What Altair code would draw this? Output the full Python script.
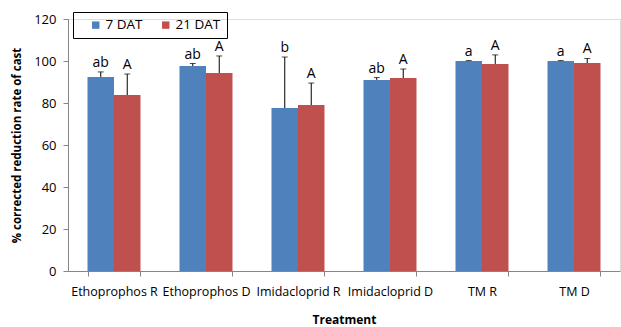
import altair as alt
import pandas as pd

treatments = ["Ethoprophos R", "Ethoprophos D", "Imidacloprid R", "Imidacloprid D", "TM R", "TM D"]
series = ["7 DAT", "21 DAT"]
vals_7 = [92.4, 97.6, 77.6, 91.0, 100.0, 100.0]
err_7 = [2.4, 1.2, 24.3, 1.1, 0.2, 0.2]
vals_21 = [83.8, 94.3, 79.0, 91.9, 98.6, 99.0]
err_21 = [10.0, 8.1, 10.5, 4.3, 4.3, 2.2]
lab_7 = ["ab", "ab", "b", "ab", "a", "a"]
lab_21 = ["A", "A", "A", "A", "A", "A"]

rows = []
for i, t in enumerate(treatments):
    rows.append({"t": t, "s": series[0], "v": vals_7[i], "top": vals_7[i] + err_7[i], "lab": lab_7[i]})
    rows.append({"t": t, "s": series[1], "v": vals_21[i], "top": vals_21[i] + err_21[i], "lab": lab_21[i]})
df = pd.DataFrame(rows)

FONT = "Open Sans"
xscale = alt.Scale(domain=treatments, paddingInner=0.424, paddingOuter=0.212)
xoff = alt.XOffset("s:N", scale=alt.Scale(domain=series, paddingInner=0, paddingOuter=0))
color = alt.Color("s:N", scale=alt.Scale(domain=series, range=["#4F81BD", "#C0504D"]),
                  legend=alt.Legend(title=None, orient="none", legendX=5, legendY=-7,
                                    direction="horizontal", strokeColor="black",
                                    padding=6, symbolType="square", symbolSize=55,
                                    symbolStrokeWidth=0, labelFont=FONT, labelFontSize=13.5,
                                    labelColor="#000000", columnPadding=6,
                                    symbolOffset=10, labelOffset=3))

x = alt.X("t:N", scale=xscale, sort=treatments,
          axis=alt.Axis(title="Treatment", labelAngle=0, labelFont=FONT, labelFontSize=12.5,
                        labelColor="#000000", titleFont=FONT, titleFontSize=12,
                        titleFontWeight="bold", titleColor="#000000", titlePadding=17,
                        tickBand="extent", domainColor="#868686", tickColor="#868686",
                        tickSize=5, labelPadding=9, grid=False))
y = alt.Y("v:Q", scale=alt.Scale(domain=[0, 120], nice=False),
          axis=alt.Axis(title="% corrected reduction rate of cast", values=[0, 20, 40, 60, 80, 100, 120],
                        labelFont=FONT, labelFontSize=13, labelColor="#000000",
                        titleFont=FONT, titleFontSize=11.5, titleFontWeight="bold",
                        titleColor="#000000", titlePadding=11, domainColor="#868686",
                        tickColor="#868686", tickSize=5, labelPadding=7, grid=False))

base = alt.Chart(df)
bars = base.mark_bar(stroke=None).encode(x=x, xOffset=xoff, y=y, color=color)
rules = base.mark_rule(color="black", strokeWidth=1).encode(
    x=alt.X("t:N", scale=xscale, sort=treatments), xOffset=xoff,
    y=alt.Y("v:Q"), y2="top:Q")
caps = base.mark_tick(color="black", thickness=1, size=6).encode(
    x=alt.X("t:N", scale=xscale, sort=treatments), xOffset=xoff, y=alt.Y("top:Q"))
texts = base.mark_text(font=FONT, fontSize=14, baseline="bottom", dy=-2, color="#000000").encode(
    x=alt.X("t:N", scale=xscale, sort=treatments), xOffset=xoff, y=alt.Y("top:Q"), text="lab:N")

chart = alt.layer(bars, rules, caps, texts).properties(
    width=552, height=252,
    autosize=alt.AutoSizeParams(type="none"),
    padding={"left": 68, "top": 19, "right": 1, "bottom": 56},
).configure_view(stroke=None).configure(background="white")

chart.save("out.html", embed_options={"renderer": "svg", "actions": False})
